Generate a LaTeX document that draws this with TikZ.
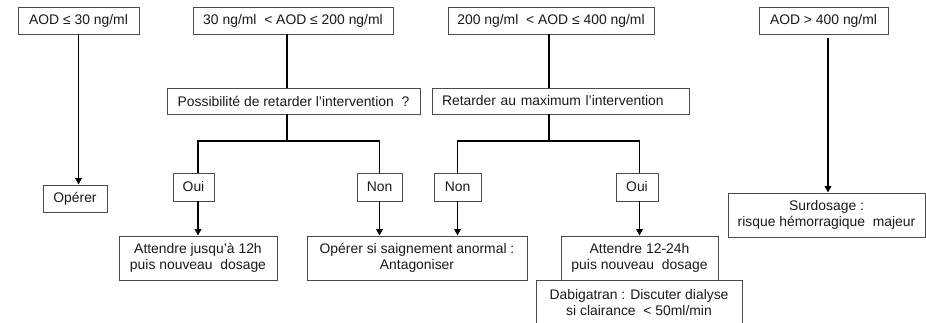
\documentclass[tikz,border=0pt]{standalone}
\usepackage{fontspec}
\setmainfont{Liberation Sans}
\usetikzlibrary{arrows.meta}
\definecolor{boxgray}{HTML}{4A4A4A}
\definecolor{txt}{HTML}{1A1A1A}
\begin{document}
\begin{tikzpicture}[x=1pt,y=-1pt,
  box/.style={draw=boxgray,line width=0.9pt,fill=white,inner sep=0pt,text=txt,
    font=\fontsize{13.9}{16.6}\selectfont,align=center},
  conn/.style={line width=1.6pt,black},
  arr/.style={conn,-{Triangle[width=6.5pt,length=6.5pt]}}]
\useasboundingbox[fill=white] (0,0) rectangle (926,323);
% top row
\node[box,minimum width=121,minimum height=27] (a1) at (78.5,20.5) {AOD ≤ 30 ng/ml};
\node[box,minimum width=200,minimum height=27] (a2) at (293,20.5) {30 ng/ml\ \ < AOD ≤ 200 ng/ml};
\node[box,minimum width=206,minimum height=27] (a3) at (551,20.5) {200 ng/ml\ \ < AOD ≤ 400 ng/ml};
\node[box,minimum width=129,minimum height=27] (a4) at (823.5,20.5) {AOD > 400 ng/ml};
% second row
\node[box,minimum width=253,minimum height=26] (p1) at (293.5,101) {Possibilité de retarder l’intervention\ \ ?};
\node[box,minimum height=26,inner xsep=10pt,text width=237,align=left] (r1) at (560.5,101) {Retarder au maximum\ l’intervention};
% Oui / Non
\node[box,minimum width=64,minimum height=27] (op) at (75,198.5) {Opérer};
\node[box,minimum width=41,minimum height=28] (oui1) at (193.5,187) {Oui};
\node[box,minimum width=45,minimum height=28] (non1) at (379.5,187) {Non};
\node[box,minimum width=47,minimum height=28] (non2) at (457.5,187) {Non};
\node[box,minimum width=42,minimum height=28] (oui2) at (637,187) {Oui};
% bottom row
\node[box,minimum width=158,minimum height=44] (att1) at (198,258) {Attendre jusqu'à 12h\\puis nouveau\ \ dosage};
\node[box,minimum width=220,minimum height=44] (opsi) at (417,258) {Opérer si saignement anormal :\\Antagoniser};
\node[box,minimum width=157,minimum height=44] (att2) at (639.5,258) {Attendre 12-24h\\puis nouveau\ \ dosage};
\node[box,minimum width=206,minimum height=48] (dab) at (639,304) {\raisebox{2pt}{\begin{tabular}{@{}c@{}}Dabigatran : Discuter dialyse\\si clairance\ \ < 50ml/min\end{tabular}}};
\node[box,minimum width=197,minimum height=44] (surd) at (826.5,215) {Surdosage :\\risque hémorragique\ \ majeur};
% connectors
\coordinate (j1) at (287,141);
\coordinate (j2) at (549,141);
\coordinate (g4) at (828,38);
\draw[arr] (a1.south) -- (a1.south |- op.north);
\draw[conn] ([xshift=-6pt]a2.south) -- ([xshift=-6pt]a2.south |- p1.north);
\draw[conn] ([xshift=-2pt]a3.south) -- ([xshift=-2pt]a3.south |- r1.north);
\draw[arr] (g4) -- (g4 |- surd.north);
\draw[conn] (j1 |- p1.south) -- (j1);
\draw[conn] (att1.north |- oui1.north) -- (att1.north |- j1) -- (non1.north |- j1) -- (non1.north);
\draw[conn] (j2 |- r1.south) -- (j2);
\draw[conn] (non2.north) -- (non2.north |- j2) -- (att2.north |- j2) -- (att2.north |- oui2.north);
\draw[arr] (att1.north |- oui1.south) -- (att1.north);
\draw[arr] (non1.south) -- (non1.south |- opsi.north);
\draw[arr] (non2.south) -- (non2.south |- opsi.north);
\draw[arr] (att2.north |- oui2.south) -- (att2.north);
\end{tikzpicture}
\end{document}
